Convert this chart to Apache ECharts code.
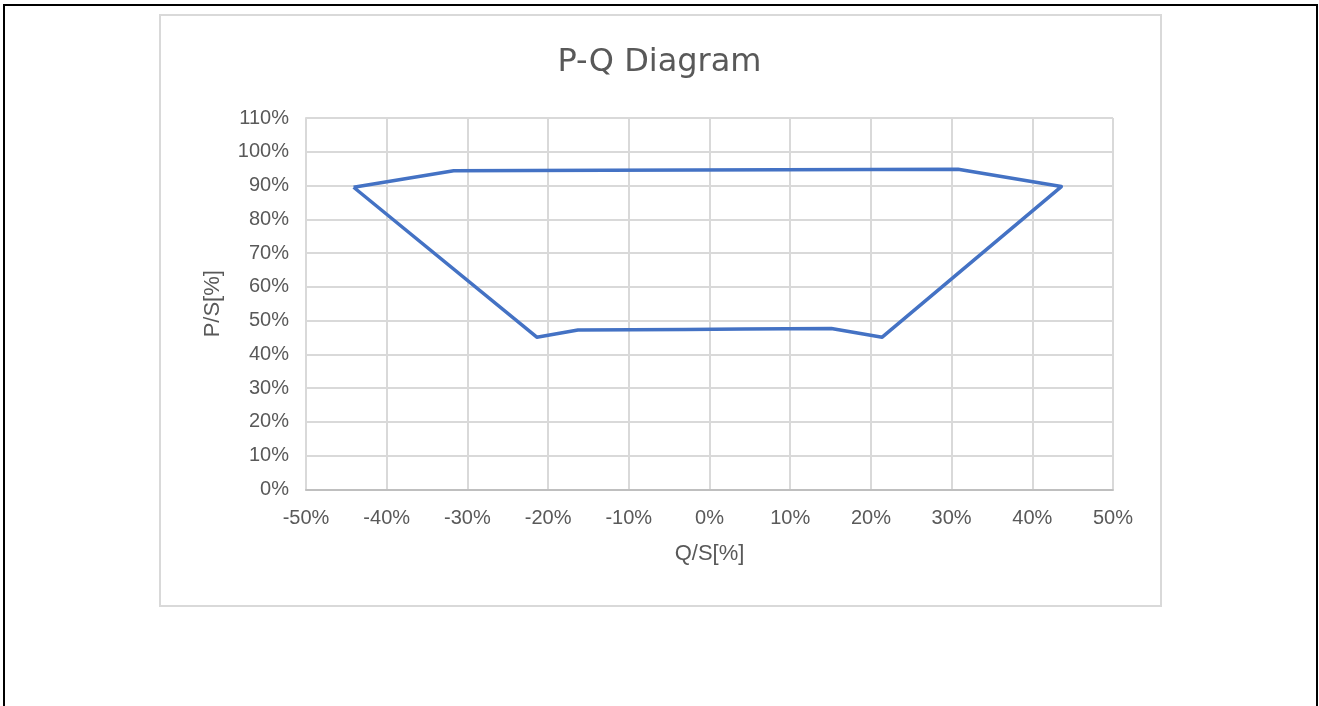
<!DOCTYPE html>
<html>
<head>
<meta charset="utf-8">
<script src="https://cdn.jsdelivr.net/npm/echarts@6/dist/echarts.min.js"></script>
<style>
html,body{margin:0;padding:0;background:#fff;width:1319px;height:706px;overflow:hidden;}
#frame{position:absolute;left:3px;top:4px;width:1315px;height:720px;border:2px solid #000;box-sizing:border-box;}
#box{position:absolute;left:159px;top:14px;width:1003px;height:593px;border:2px solid #d9d9d9;box-sizing:border-box;}
#chart{position:absolute;left:0;top:0;width:1319px;height:706px;}
</style>
</head>
<body>
<div id="frame"></div>
<div id="box"></div>
<div id="chart"></div>
<script>
// Q/S [%] and P/S [%] of the closed P-Q capability curve
const qValues = [-44.1, -31.7, -12.8, 9.0, 30.8, 43.6, 21.4, 15.1, 4.2, -3.0, -16.3, -21.4, -44.1];
const pValues = [89.5, 94.4, 94.5, 94.7, 94.8, 89.7, 45.1, 47.7, 47.5, 47.4, 47.2, 45.1, 89.5];
const xTicks = { min: -50, max: 50, step: 10 };
const yTicks = { min: 0, max: 110, step: 10 };
const titleText = 'P-Q Diagram';
const xName = 'Q/S[%]';
const yName = 'P/S[%]';

const chart = echarts.init(document.getElementById('chart'), null, { renderer: 'canvas' });
const data = qValues.map((q, i) => [q, pValues[i]]);
const txt = '#595959';
chart.setOption({
  animation: false,
  backgroundColor: 'transparent',
  title: {
    text: titleText, left: 'center', top: 42,
    textStyle: { fontFamily: 'DejaVu Sans', fontSize: 32, fontWeight: 'normal', color: txt }
  },
  grid: { left: 306, right: 206, top: 118, bottom: 216.5, containLabel: false },
  xAxis: {
    type: 'value', min: xTicks.min, max: xTicks.max, interval: xTicks.step,
    name: xName, nameLocation: 'middle', nameGap: 53,
    nameTextStyle: { fontFamily: 'Liberation Sans', fontSize: 22, color: txt },
    axisLine: { show: true, onZero: false, lineStyle: { color: '#bfbfbf', width: 2 } },
    axisTick: { show: false },
    axisLabel: { formatter: v => v + '%', fontFamily: 'Liberation Sans', fontSize: 20, color: txt, margin: 19 },
    splitLine: { show: true, lineStyle: { color: '#d9d9d9', width: 2 } }
  },
  yAxis: {
    type: 'value', min: yTicks.min, max: yTicks.max, interval: yTicks.step,
    name: yName, nameLocation: 'middle', nameGap: 82,
    nameTextStyle: { fontFamily: 'Liberation Sans', fontSize: 22, color: txt },
    axisLine: { show: true, onZero: false, lineStyle: { color: '#d9d9d9', width: 2 } },
    axisTick: { show: false },
    axisLabel: { formatter: v => v + '%', fontFamily: 'Liberation Sans', fontSize: 20, color: txt, margin: 17 },
    splitLine: { show: true, lineStyle: { color: '#d9d9d9', width: 2 } }
  },
  series: [{
    type: 'line', data: data, showSymbol: false, symbol: 'none',
    lineStyle: { color: '#4472c4', width: 3.5, join: 'round' }, z: 5
  }]
});
</script>
</body>
</html>
